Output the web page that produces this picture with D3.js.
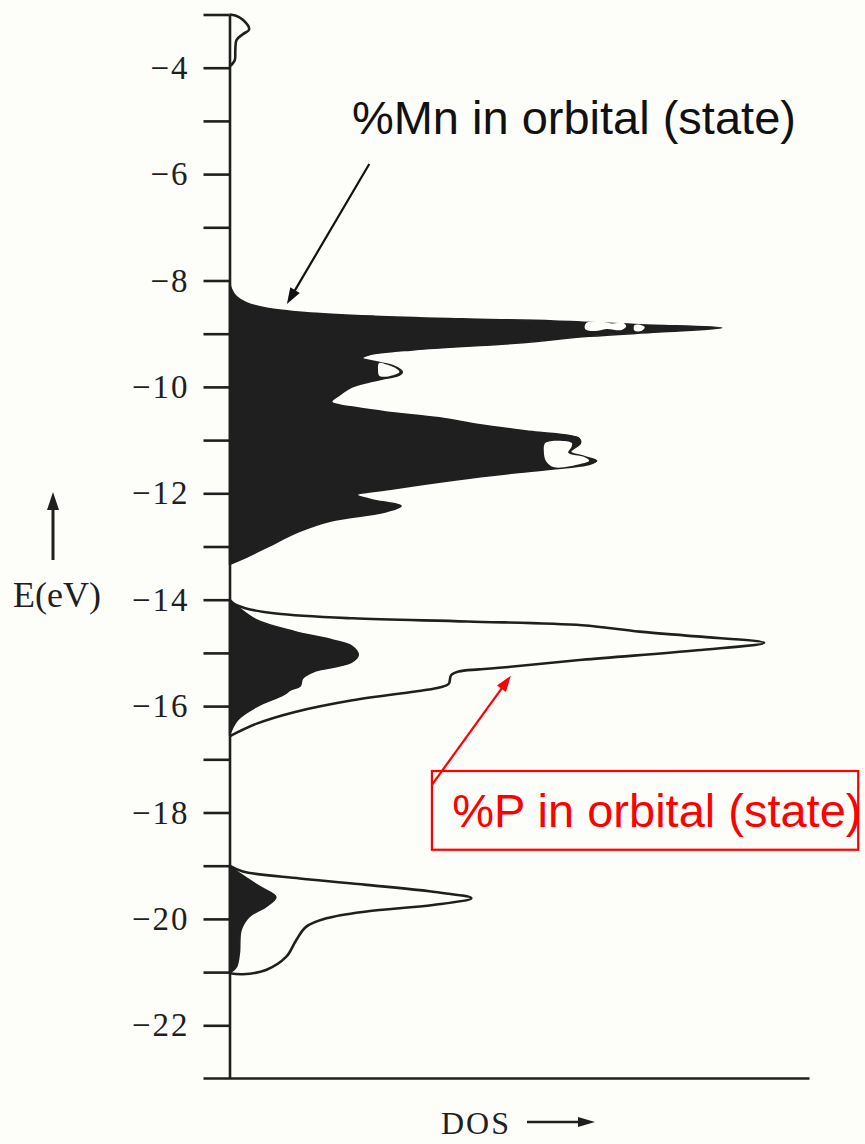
<!DOCTYPE html>
<html><head><meta charset="utf-8">
<script src="https://cdn.jsdelivr.net/npm/d3@7"></script>
<style>html,body{margin:0;padding:0;background:#fdfdfa;} svg{display:block;}</style>
</head><body>
<svg id="chart" width="865" height="1144"></svg>
<script>
// ---------- data (energy in eV, DOS in arbitrary units) ----------
const energyTicks = d3.range(-3, -23, -1);          // -3 … -22
const labelledTicks = [-4, -6, -8, -10, -12, -14, -16, -18, -20, -22];
const energyDomain = [-3, -23];
const dosDomain = [0, 10];

// %Mn contribution (filled black), three bands
const mnBandUpper = [[-8.0,0],[-8.15,0.03],[-8.3,0.12],[-8.42,0.3],[-8.52,0.65],[-8.6,1.3],[-8.67,2.5],[-8.72,4.0],[-8.76,5.6],[-8.83,7.1],[-8.89,8.49],[-8.97,7.4],[-9.05,6.2],[-9.18,4.93],[-9.30,3.2],[-9.40,2.4],[-9.46,2.29],[-9.53,2.55],[-9.61,2.84],[-9.72,2.98],[-9.78,2.93],[-9.84,2.7],[-9.91,2.41],[-10.0,2.12],[-10.15,1.9],[-10.28,1.76],[-10.34,1.9],[-10.38,2.12],[-10.47,2.7],[-10.58,3.62],[-10.71,4.32],[-10.84,5.22],[-10.97,6.03],[-11.06,6.05],[-11.22,5.88],[-11.30,6.09],[-11.39,6.33],[-11.46,6.2],[-11.52,5.8],[-11.62,4.9],[-11.75,3.9],[-11.93,2.75],[-12.03,2.2],[-12.12,2.45],[-12.24,2.96],[-12.36,2.65],[-12.52,1.75],[-12.72,1.2],[-12.99,0.69],[-13.2,0.3],[-13.34,0]];
const mnBandMiddle = [[-14.0,0],[-14.13,0.14],[-14.38,0.47],[-14.60,1.13],[-14.76,1.79],[-14.88,2.12],[-15.04,2.22],[-15.18,2.1],[-15.28,1.75],[-15.35,1.46],[-15.48,1.26],[-15.62,1.22],[-15.70,1.05],[-15.79,0.93],[-16.01,0.47],[-16.26,0.14],[-16.55,0]];
const mnBandLower = [[-19.0,0],[-19.14,0.17],[-19.39,0.52],[-19.59,0.80],[-19.77,0.63],[-19.96,0.34],[-20.21,0.20],[-20.65,0.17],[-20.90,0.12],[-21.02,0]];

// unfilled pockets inside the black area
const mnPocketA = [[-8.80,6.15],[-8.78,6.45],[-8.81,6.6],[-8.79,6.78],[-8.86,6.84],[-8.93,6.76],[-8.91,6.5],[-8.95,6.3],[-8.91,6.13]];
const mnPocketB = [[-8.84,6.98],[-8.83,7.08],[-8.88,7.16],[-8.95,7.1],[-8.94,6.98]];
const mnPocketC = [[-9.55,2.58],[-9.60,2.76],[-9.66,2.88],[-9.72,2.93],[-9.78,2.82],[-9.81,2.65],[-9.79,2.58],[-9.67,2.56]];
const mnPocketD = [[-11.05,5.45],[-11.05,5.9],[-11.12,5.9],[-11.24,5.84],[-11.32,6.12],[-11.39,6.2],[-11.45,6.05],[-11.51,5.6],[-11.40,5.46],[-11.22,5.42]];

// total DOS outline
const totalTop = [[-3.0,0],[-3.02,0.1],[-3.1,0.23],[-3.28,0.34],[-3.37,0.23],[-3.48,0.12],[-3.67,0.10],[-3.86,0.09],[-3.98,0]];
const totalMiddle = [[-14.0,0],[-14.08,0.08],[-14.16,0.27],[-14.26,0.80],[-14.35,2.12],[-14.41,4.10],[-14.48,6.08],[-14.60,7.07],[-14.69,8.06],[-14.81,9.22],[-14.95,8.06],[-15.13,6.08],[-15.27,4.76],[-15.31,4.3],[-15.35,3.95],[-15.42,3.82],[-15.58,3.78],[-15.65,3.62],[-15.71,3.3],[-15.89,2.12],[-16.11,1.13],[-16.33,0.47],[-16.57,0]];
const totalLower = [[-19.0,0],[-19.11,0.23],[-19.24,1.21],[-19.36,2.36],[-19.49,3.51],[-19.61,4.17],[-19.74,3.51],[-19.86,2.36],[-19.99,1.67],[-20.15,1.32],[-20.40,1.15],[-20.71,0.98],[-20.96,0.63],[-21.04,0.23],[-21.02,0]];

// annotations (data coordinates: [energy, dos])
const mnNoteText = "%Mn in orbital (state)";
const mnNoteAt = [-5.25, 2.11];
const mnArrow = [[-5.81, 2.41], [-8.44, 0.99]];
const pNoteText = "%P in orbital (state)";
const pNoteAt = [-18.27, 3.84];
const pBox = [[-17.22, 3.49], [-18.70, 10.84]];
const pArrow = [[-17.48, 3.49], [-15.43, 4.85]];

// ---------- drawing ----------
const W = 865, H = 1144, bg = "#fdfdfa", ink = "#1f1f1f", red = "#ff0000";
const svg = d3.select("#chart");
svg.append("rect").attr("width", W).attr("height", H).attr("fill", bg);

const y = d3.scaleLinear().domain(energyDomain).range([14.5, 1078.5]);
const x = d3.scaleLinear().domain(dosDomain).range([229.5, 809.5]);

const curve = d3.line().x(d => x(d[1])).y(d => y(d[0])).curve(d3.curveCatmullRom.alpha(0.5));
const closedCurve = d3.line().x(d => x(d[1])).y(d => y(d[0])).curve(d3.curveCatmullRomClosed.alpha(0.5));

const plot = svg.append("g");
[mnBandUpper, mnBandMiddle, mnBandLower].forEach(s => {
  plot.append("path").attr("d", curve(s) + "Z")
    .attr("fill", ink).attr("stroke", ink).attr("stroke-width", 1.5).attr("stroke-linejoin", "round");
});
[mnPocketA, mnPocketB, mnPocketC, mnPocketD].forEach(s => {
  plot.append("path").attr("d", closedCurve(s)).attr("fill", bg);
});
[totalTop, totalMiddle, totalLower].forEach(s => {
  plot.append("path").attr("d", curve(s))
    .attr("fill", "none").attr("stroke", ink).attr("stroke-width", 2.6).attr("stroke-linejoin", "round");
});

// y axis
const tickLen = 26;
const yAxis = d3.axisLeft(y).tickValues(energyTicks).tickSize(tickLen).tickSizeOuter(0).tickPadding(14)
  .tickFormat(d => labelledTicks.includes(d) ? "\u2212" + Math.abs(d) : "");
const gy = svg.append("g").attr("transform", `translate(${x(0)},0)`).call(yAxis);
gy.select(".domain").attr("stroke", ink).attr("stroke-width", 2.6);
gy.selectAll(".tick line").attr("stroke", ink).attr("stroke-width", 2.6);
gy.selectAll(".tick text").attr("fill", ink)
  .style("font-family", "'Liberation Serif','Times New Roman',serif")
  .style("font-size", "33px").style("letter-spacing", "2px");

// x axis baseline
svg.append("line")
  .attr("x1", x(0) - tickLen).attr("x2", x(dosDomain[1]))
  .attr("y1", y(energyDomain[1])).attr("y2", y(energyDomain[1]))
  .attr("stroke", ink).attr("stroke-width", 2.6);

function arrow(g, x1, y1, x2, y2, color, width, headLen, headW) {
  const a = Math.atan2(y2 - y1, x2 - x1);
  const bx = x2 - headLen * Math.cos(a), by = y2 - headLen * Math.sin(a);
  g.append("line").attr("x1", x1).attr("y1", y1).attr("x2", bx + 2 * Math.cos(a)).attr("y2", by + 2 * Math.sin(a))
    .attr("stroke", color).attr("stroke-width", width);
  const px = -Math.sin(a) * headW / 2, py = Math.cos(a) * headW / 2;
  g.append("polygon").attr("points", `${x2},${y2} ${bx + px},${by + py} ${bx - px},${by - py}`).attr("fill", color);
}

// axis titles
const serif = "'Liberation Serif','Times New Roman',serif";
svg.append("text").attr("x", 101).attr("y", 607).attr("text-anchor", "end")
  .style("font-family", serif).style("font-size", "36px").attr("fill", ink).text("E(eV)");
arrow(svg, 53, 560, 53, 492, ink, 3, 18, 12);

svg.append("text").attr("x", 441).attr("y", 1134)
  .style("font-family", serif).style("font-size", "32px").style("letter-spacing", "2px").attr("fill", ink).text("DOS");
arrow(svg, 527, 1122, 595, 1122, ink, 2.4, 17, 10);

// annotations
const sans = "'Liberation Sans',Arial,sans-serif";
svg.append("text").attr("x", x(mnNoteAt[1])).attr("y", y(mnNoteAt[0]))
  .style("font-family", sans).style("font-size", "47px").attr("fill", "#111").text(mnNoteText);
arrow(svg, x(mnArrow[0][1]), y(mnArrow[0][0]), x(mnArrow[1][1]), y(mnArrow[1][0]), "#111", 2.2, 16, 11);

svg.append("rect")
  .attr("x", x(pBox[0][1])).attr("y", y(pBox[0][0]))
  .attr("width", x(pBox[1][1]) - x(pBox[0][1])).attr("height", y(pBox[1][0]) - y(pBox[0][0]))
  .attr("fill", "none").attr("stroke", red).attr("stroke-width", 2.2);
svg.append("text").attr("x", x(pNoteAt[1])).attr("y", y(pNoteAt[0]))
  .style("font-family", sans).style("font-size", "47px").attr("fill", red).text(pNoteText);
arrow(svg, x(pArrow[0][1]), y(pArrow[0][0]), x(pArrow[1][1]), y(pArrow[1][0]), red, 2.2, 16, 11);
</script>
</body></html>
